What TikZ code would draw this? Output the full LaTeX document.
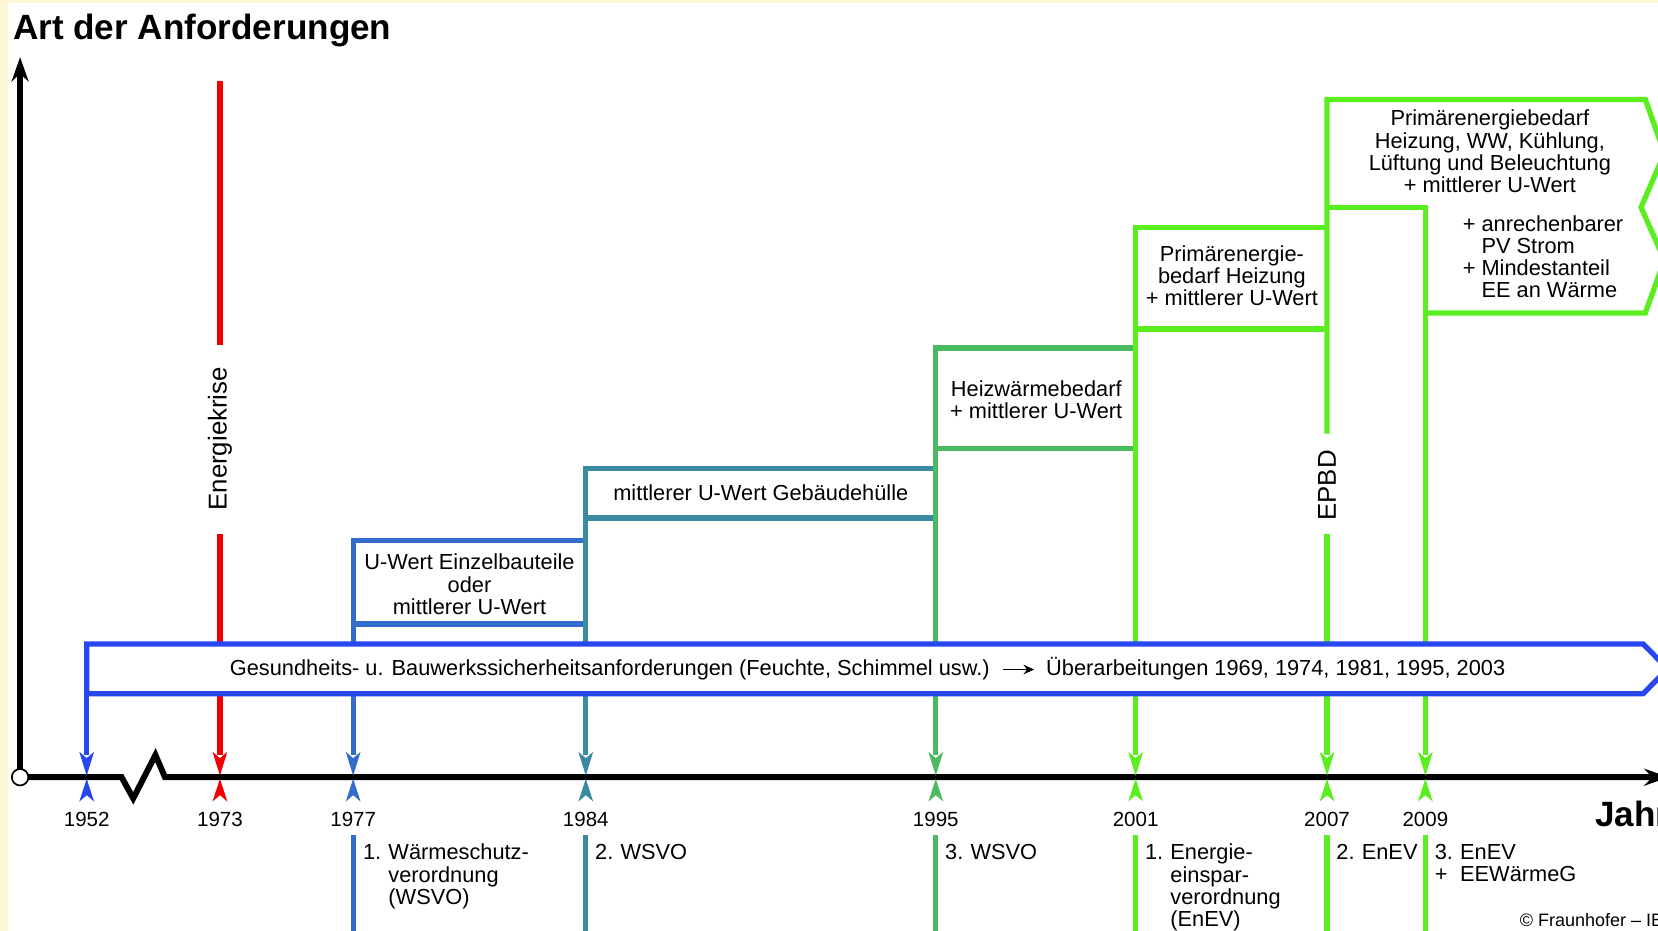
\documentclass[tikz,border=0pt]{standalone}
\usepackage{fontspec}
\setmainfont{Liberation Sans}
\usetikzlibrary{arrows.meta}
\definecolor{cream}{RGB}{255,246,214}
\definecolor{cblue}{RGB}{38,72,238}
\definecolor{cseven}{RGB}{52,108,206}
\definecolor{ceight}{RGB}{58,138,162}
\definecolor{cnine}{RGB}{74,186,96}
\definecolor{cgreen}{RGB}{90,238,30}
\definecolor{cred}{RGB}{240,0,0}
\begin{document}
\begin{tikzpicture}[x=0.5pt,y=-0.5pt,
  stepline/.style={line width=2.5pt, line join=miter, line cap=butt},
  axisline/.style={line width=2.8pt, line join=miter, -{Stealth[length=11.5pt,width=8pt]}},
  boxtext/.style={inner sep=0pt, font=\fontsize{10.3}{10.4}\selectfont},
  yeartext/.style={inner sep=0pt, font=\fontsize{9.7}{10}\selectfont},
  bigtext/.style={inner sep=0pt, font=\bfseries\fontsize{16.6}{18}\selectfont},
  rottext/.style={inner sep=0pt, rotate=90, font=\fontsize{12.2}{13}\selectfont}]
\useasboundingbox (0,0) rectangle (1568,880);
\clip (0,0) rectangle (1568,880);
% background
\fill[cream] (0,0) rectangle (1568,880);
\fill[white] (8,3) rectangle (1568,880);

% red line (Energiekrise)
\draw[stepline, cred] (208,77) -- (208,326);
\draw[stepline, cred] (208,505) -- (208,714);

% step boxes
\draw[stepline, cseven] (334,714) -- (334,511) -- (554,511);
\draw[stepline, cseven] (334,590) -- (554,590);
\draw[stepline, ceight] (554,714) -- (554,443) -- (885,443);
\draw[stepline, ceight] (554,490) -- (885,490);
\draw[stepline, cnine] (885,714) -- (885,329) -- (1074,329);
\draw[stepline, cnine] (885,424) -- (1074,424);
\draw[stepline, cgreen] (1074,714) -- (1074,215) -- (1255,215);
\draw[stepline, cgreen] (1074,311) -- (1255,311);
\draw[stepline, cgreen] (1255,410) -- (1255,94) -- (1556,94) -- (1574,145) -- (1552,196) -- (1574,246) -- (1556,296) -- (1348,296);
\draw[stepline, cgreen] (1255,196) -- (1348,196) -- (1348,714);
\draw[stepline, cgreen] (1255,505) -- (1255,714);

% big blue box
\draw[stepline, cblue, fill=white] (82,609) -- (1554,609) -- (1577,632.5) -- (1554,656) -- (82,656) -- cycle;
\draw[stepline, cblue] (82,656) -- (82,714);

% lower lines
\draw[stepline, cseven] (334,790) -- (334,882);
\draw[stepline, ceight] (554,790) -- (554,882);
\draw[stepline, cnine] (885,790) -- (885,882);
\draw[stepline, cgreen] (1074,790) -- (1074,882);
\draw[stepline, cgreen] (1255,790) -- (1255,882);
\draw[stepline, cgreen] (1348,790) -- (1348,882);

% axes
\coordinate (origin) at (19,735);
\coordinate (ytip) at (19,54);
\coordinate (xtip) at (1578,735);
\draw[axisline] (origin) -- (ytip);
\draw[axisline] (origin) -- (115,735) -- (126,755) -- (147,714) -- (156,735) -- (xtip);
\draw[line width=0.8pt, fill=white] (origin) circle[radius=3.9pt];

% year markers
\foreach \x/\c in {82/cblue,208/cred,334/cseven,554/ceight,885/cnine,1074/cgreen,1255/cgreen,1348/cgreen} {
  \fill[\c] ({\x-7},711) -- (\x,717) -- ({\x+7},711) -- (\x,733.5) -- cycle;
  \fill[\c] ({\x-7},758) -- (\x,752) -- ({\x+7},758) -- (\x,736.5) -- cycle;
}

% title and axis label
\node[bigtext, anchor=base west] (title) at (12,37) {Art der Anforderungen};
\node[bigtext, anchor=base west] (jahr) at (1508,782) {Jahr};

% rotated labels
\node[rottext] (krise) at (208,415) {Energiekrise};
\node[rottext] (epbd) at (1255,459) {EPBD};

% box texts
\node[boxtext, anchor=base] (t77) at (444,539) {\begin{tabular}[t]{@{}c@{}}U-Wert Einzelbauteile\\oder\\mittlerer U-Wert\end{tabular}};
\node[boxtext, anchor=base] (t84) at (719.5,473) {mittlerer U-Wert Gebäudehülle};
\node[boxtext, anchor=base] (t95) at (980,375) {\begin{tabular}[t]{@{}c@{}}Heizwärmebedarf\\+ mittlerer U-Wert\end{tabular}};
\node[boxtext, anchor=base] (t01) at (1165,247) {\begin{tabular}[t]{@{}c@{}}Primärenergie-\\bedarf Heizung\\+ mittlerer U-Wert\end{tabular}};
\node[boxtext, anchor=base] (t07) at (1409,119) {\begin{tabular}[t]{@{}c@{}}Primärenergiebedarf\\Heizung, WW, Kühlung,\\Lüftung und Beleuchtung\\+ mittlerer U-Wert\end{tabular}};
\node[boxtext, anchor=base west] (t09) at (1383,219) {\begin{tabular}[t]{@{}l@{\ }l@{}}+ & anrechenbarer\\ & PV Strom\\+ & Mindestanteil\\ & EE an Wärme\end{tabular}};

% long requirement box text
\node[boxtext, anchor=base west] (g1) at (217,638.5) {Gesundheits- u. Bauwerkssicherheitsanforderungen (Feuchte, Schimmel usw.)};
\node[boxtext, anchor=base west] (g2) at (989,638.5) {Überarbeitungen 1969, 1974, 1981, 1995, 2003};
\draw[line width=0.8pt, -{Stealth[length=5pt,width=4.5pt]}] ([xshift=6pt]g1.east) -- ([xshift=-5.5pt]g1.east -| g2.west);

% year labels
\foreach \x/\y in {82/1952,208/1973,334/1977,554/1984,885/1995,1074/2001,1255/2007,1348/2009} {
  \node[yeartext, anchor=base] (y\y) at (\x,781.5) {\y};
}

% law labels
\node[boxtext, anchor=base west] (l77) at (343,813) {\begin{tabular}[t]{@{}l@{}l@{}}\makebox[12pt][l]{1.} & Wärmeschutz-\\ & verordnung\\ & (WSVO)\end{tabular}};
\node[boxtext, anchor=base west] (l84) at (562.5,813) {\makebox[12pt][l]{2.}WSVO};
\node[boxtext, anchor=base west] (l95) at (893.5,813) {\makebox[12pt][l]{3.}WSVO};
\node[boxtext, anchor=base west] (l01) at (1082.5,813) {\begin{tabular}[t]{@{}l@{}l@{}}\makebox[12pt][l]{1.} & Energie-\\ & einspar-\\ & verordnung\\ & (EnEV)\end{tabular}};
\node[boxtext, anchor=base west] (l07) at (1263.5,813) {\makebox[12pt][l]{2.}EnEV};
\node[boxtext, anchor=base west] (l09) at (1356.5,813) {\begin{tabular}[t]{@{}l@{}l@{}}\makebox[12pt][l]{3.} & EnEV\\\makebox[12pt][l]{+} & EEWärmeG\end{tabular}};

% copyright
\node[inner sep=0pt, anchor=base west, font=\fontsize{8.5}{9}\selectfont] (copy) at (1437,876) {© Fraunhofer – IBP};
\end{tikzpicture}
\end{document}
